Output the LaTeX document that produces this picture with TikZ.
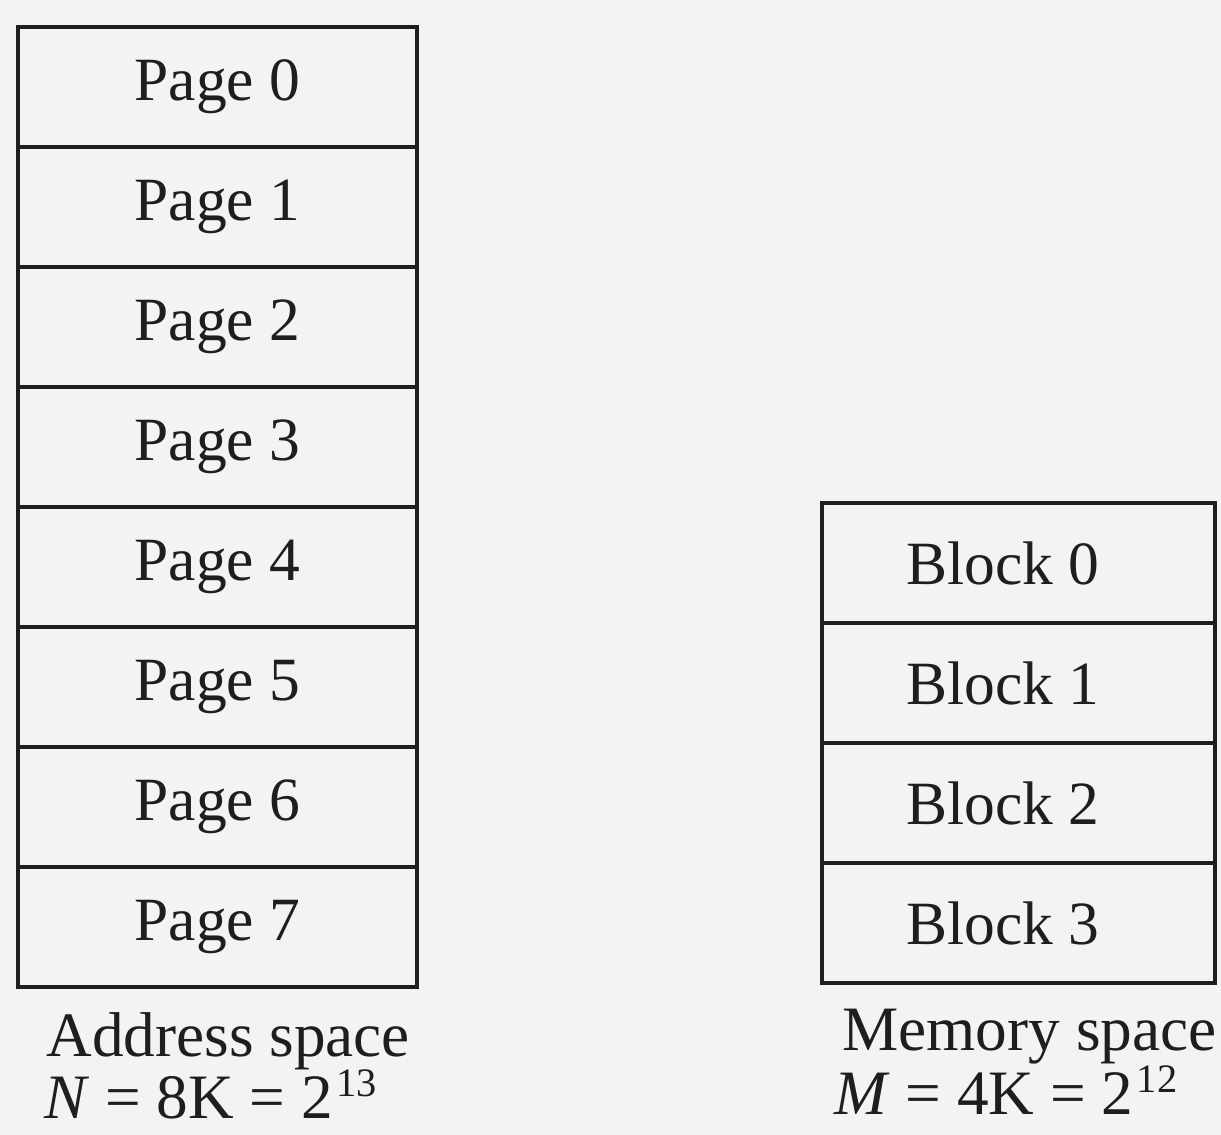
\documentclass[tikz,border=0pt]{standalone}
\usepackage{fontspec}
\setmainfont{Liberation Serif}
\definecolor{paper}{RGB}{243,243,241}
\definecolor{ink}{RGB}{30,30,30}
\tikzset{
  cell/.style={draw=ink,line width=2.4pt,rectangle,inner sep=0pt,
    minimum height=2.4cm,font=\fontsize{35}{40}\selectfont,text=ink},
  caption/.style={anchor=base west,inner sep=0pt,
    font=\fontsize{36}{40}\selectfont,text=ink}
}
\begin{document}
\begin{tikzpicture}[x=0.02cm,y=-0.02cm]
% paper (1221 x 1135 px, one unit = one pixel, y downwards)
\fill[paper] (0,0) rectangle (1221,1135);
\useasboundingbox (0,0) rectangle (1221,1135);
% address space: eight pages, 120 px each, top edge at y=27
\foreach \i in {0,...,7}
  \node[cell,minimum width=7.98cm] (page\i) at (217.5,{87+120*\i}) {Page \i};
% memory space: four blocks, top edge at y=503
\foreach \i in {0,...,3}
  \node[cell,minimum width=7.86cm] (block\i) at (1018.5,{563+120*\i}) {\hspace*{-18pt}Block \i};
% captions under the two stacks
\node[caption] (addrlbl) at (46,1056) {Address space};
\node[caption] (addrsize) at (44,1118)
  {\textit{N} = 8K = 2\kern2pt\raisebox{12pt}{\fontsize{23}{23}\selectfont 13}};
\node[caption] (memlbl) at (842,1050) {Memory space};
\node[caption] (memsize) at (834,1114)
  {\textit{M} = 4K = 2\kern2pt\raisebox{12pt}{\fontsize{23}{23}\selectfont 12}};
\end{tikzpicture}
\end{document}
